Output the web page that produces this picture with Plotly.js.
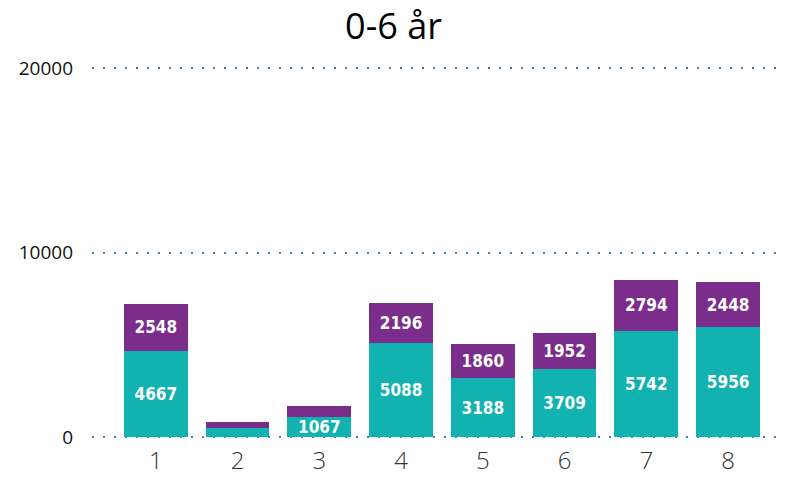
<!DOCTYPE html>
<html>
<head>
<meta charset="utf-8">
<script src="https://cdn.plot.ly/plotly-3.0.1.min.js"></script>
<style>
  html, body { margin: 0; padding: 0; background: #ffffff; }
  #chart { width: 787px; height: 481px; }
</style>
</head>
<body>
<div id="chart"></div>
<script>
// Categories along the x axis
const categories = ['1', '2', '3', '4', '5', '6', '7', '8'];

// Lower (teal) segment of each stacked bar
const lowerValues = [4667, 490, 1067, 5088, 3188, 3709, 5742, 5956];
// Upper (purple) segment of each stacked bar
const upperValues = [2548, 330, 600, 2196, 1860, 1952, 2794, 2448];

// Segments too thin to carry a label stay blank
const lowerLabels = ['4667', '', '1067', '5088', '3188', '3709', '5742', '5956'];
const upperLabels = ['2548', '', '', '2196', '1860', '1952', '2794', '2448'];

const yTicks = [0, 10000, 20000];

const labelFont = {
  family: '"DejaVu Sans Condensed", "DejaVu Sans", sans-serif',
  size: 17,
  color: '#ffffff',
  weight: 'bold'
};

const traces = [
  {
    type: 'bar',
    x: categories,
    y: lowerValues,
    text: lowerLabels,
    textposition: 'inside',
    insidetextanchor: 'middle',
    constraintext: 'none',
    textfont: labelFont,
    marker: { color: '#12b2b0' },
    hoverinfo: 'x+y'
  },
  {
    type: 'bar',
    x: categories,
    y: upperValues,
    text: upperLabels,
    textposition: 'inside',
    insidetextanchor: 'middle',
    constraintext: 'none',
    textfont: labelFont,
    marker: { color: '#7b2d8b' },
    hoverinfo: 'x+y'
  }
];

const layout = {
  width: 787,
  height: 481,
  margin: { l: 92, r: 9, t: 67, b: 43 },
  paper_bgcolor: '#ffffff',
  plot_bgcolor: '#ffffff',
  barmode: 'stack',
  bargap: 0.22,
  showlegend: false,
  title: {
    text: '0-6 år',
    x: 0.5,
    xanchor: 'center',
    y: 0.945,
    yanchor: 'middle',
    font: { family: '"Open Sans", "Noto Sans", sans-serif', size: 36, color: '#000000' }
  },
  xaxis: {
    type: 'category',
    range: [-0.78, 7.61],
    showgrid: false,
    zeroline: false,
    showline: false,
    ticks: '',
    ticklen: 0,
    ticklabelstandoff: 6,
    tickfont: { family: '"Open Sans", "Noto Sans", sans-serif', size: 24, color: '#333333', weight: 300 }
  },
  yaxis: {
    range: [-60, 20060],
    tickvals: yTicks,
    ticktext: yTicks.map(String),
    showgrid: true,
    gridcolor: '#2f86c4',
    gridwidth: 2,
    griddash: '2px,9px',
    zeroline: false,
    showline: false,
    ticks: '',
    ticklabelstandoff: 18,
    tickfont: { family: '"Open Sans", "Noto Sans", sans-serif', size: 19, color: '#111111' }
  }
};

Plotly.newPlot('chart', traces, layout, { displayModeBar: false, staticPlot: true });
</script>
</body>
</html>
